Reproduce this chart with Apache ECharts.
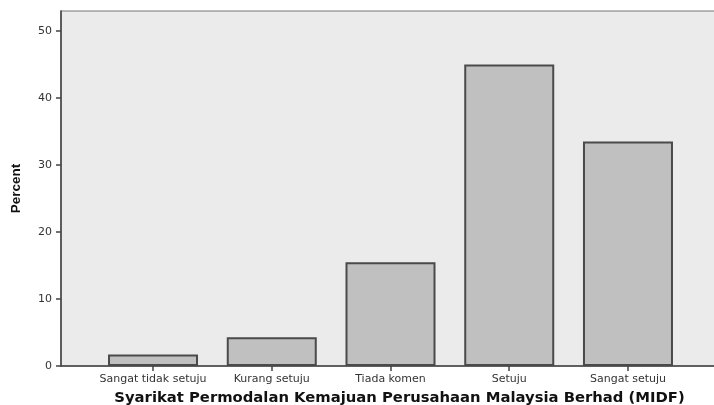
<!DOCTYPE html>
<html><head><meta charset="utf-8">
<script src="https://cdn.jsdelivr.net/npm/echarts@6/dist/echarts.min.js"></script>
<style>html,body{margin:0;padding:0;background:#fff}#c{width:714px;height:405px}</style>
</head><body><div id="c"></div>
<script>
const categories = ["Sangat tidak setuju", "Kurang setuju", "Tiada komen", "Setuju", "Sangat setuju"];
const percentValues = [1.7, 4.3, 15.5, 45.0, 33.5];
const yTicks = [0, 10, 20, 30, 40, 50];
const xTitle = "Syarikat Permodalan Kemajuan Perusahaan Malaysia Berhad (MIDF)";
const yTitle = "Percent";

const idx = categories.map((c, i) => i);
const chart = echarts.init(document.getElementById('c'), null, {renderer: 'canvas'});
chart.setOption({
  animation: false,
  grid: {left: 61, top: 11, right: -6, bottom: 39, outerBoundsMode: 'none', containLabel: false,
         show: true, backgroundColor: '#ebebeb', borderColor: '#777', borderWidth: 1.2},
  xAxis: {
    type: 'value', min: -0.775, max: 4.775,
    splitLine: {show: false},
    axisLine: {show: true, onZero: false, lineStyle: {color: '#444', width: 1.5}},
    axisTick: {show: true, customValues: idx, length: 5, lineStyle: {color: '#444', width: 1.5}},
    axisLabel: {customValues: idx, formatter: v => categories[Math.round(v)] || '', color: '#333', fontFamily: 'DejaVu Sans, sans-serif', fontSize: 11, margin: 8},
    name: xTitle, nameLocation: 'middle', nameGap: 25,
    nameTextStyle: {fontFamily: 'DejaVu Sans, sans-serif', fontWeight: 'bold', fontSize: 14.8, color: '#111', padding: [0, 0, 0, 18]}
  },
  yAxis: {
    type: 'value', min: 0, max: 53,
    splitLine: {show: false},
    axisLine: {show: true, onZero: false, lineStyle: {color: '#444', width: 1.5}},
    axisTick: {show: true, customValues: yTicks, length: 5, lineStyle: {color: '#444', width: 1.5}},
    axisLabel: {customValues: yTicks, color: '#333', fontFamily: 'DejaVu Sans, sans-serif', fontSize: 11, margin: 9},
    name: yTitle, nameLocation: 'middle', nameGap: 38, nameRotate: 90,
    nameTextStyle: {fontFamily: 'Liberation Sans, Arial, sans-serif', fontWeight: 'bold', fontSize: 13.5, color: '#111'}
  },
  series: [{
    type: 'bar',
    data: percentValues.map((v, i) => [i, v]),
    barWidth: 90,
    itemStyle: {color: '#c0c0c0', borderColor: '#4a4a4a', borderWidth: 2}
  }]
});
</script></body></html>
